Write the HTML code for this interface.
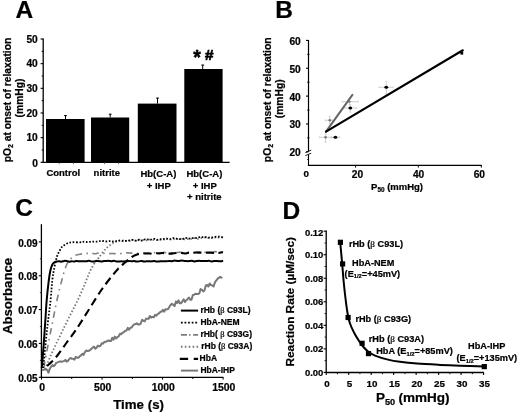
<!DOCTYPE html>
<html><head><meta charset="utf-8"><style>
html,body{margin:0;padding:0;background:#fff;overflow:hidden;width:520px;height:413px;}
svg{display:block;font-family:"Liberation Sans", sans-serif;will-change:transform;}
text{stroke:#000;stroke-width:0.22px;paint-order:stroke;}
</style></head><body>
<svg width="520" height="413" viewBox="0 0 520 413" font-family='"Liberation Sans", sans-serif'>
<rect width="520" height="413" fill="#fff"/>
<text x="15.60" y="18.10" font-size="24.5" text-anchor="start" font-weight="bold" fill="#000" >A</text>
<line x1="43.20" y1="38.60" x2="43.20" y2="162.90" stroke="#000" stroke-width="1.3" />
<line x1="42.60" y1="162.40" x2="229.60" y2="162.40" stroke="#000" stroke-width="1.3" />
<line x1="40.60" y1="162.30" x2="43.20" y2="162.30" stroke="#000" stroke-width="1.1" />
<text x="37.80" y="167.30" font-size="10.2" text-anchor="end" font-weight="bold" fill="#000" >0</text>
<line x1="40.60" y1="137.64" x2="43.20" y2="137.64" stroke="#000" stroke-width="1.1" />
<text x="37.80" y="141.24" font-size="10.2" text-anchor="end" font-weight="bold" fill="#000" >10</text>
<line x1="40.60" y1="112.98" x2="43.20" y2="112.98" stroke="#000" stroke-width="1.1" />
<text x="37.80" y="116.58" font-size="10.2" text-anchor="end" font-weight="bold" fill="#000" >20</text>
<line x1="40.60" y1="88.32" x2="43.20" y2="88.32" stroke="#000" stroke-width="1.1" />
<text x="37.80" y="91.92" font-size="10.2" text-anchor="end" font-weight="bold" fill="#000" >30</text>
<line x1="40.60" y1="63.66" x2="43.20" y2="63.66" stroke="#000" stroke-width="1.1" />
<text x="37.80" y="67.26" font-size="10.2" text-anchor="end" font-weight="bold" fill="#000" >40</text>
<line x1="40.60" y1="39.00" x2="43.20" y2="39.00" stroke="#000" stroke-width="1.1" />
<text x="37.80" y="42.60" font-size="10.2" text-anchor="end" font-weight="bold" fill="#000" >50</text>
<line x1="41.60" y1="149.97" x2="43.20" y2="149.97" stroke="#000" stroke-width="0.9" />
<line x1="41.60" y1="125.31" x2="43.20" y2="125.31" stroke="#000" stroke-width="0.9" />
<line x1="41.60" y1="100.65" x2="43.20" y2="100.65" stroke="#000" stroke-width="0.9" />
<line x1="41.60" y1="75.99" x2="43.20" y2="75.99" stroke="#000" stroke-width="0.9" />
<line x1="41.60" y1="51.33" x2="43.20" y2="51.33" stroke="#000" stroke-width="0.9" />
<rect x="46.00" y="119.00" width="38.60" height="43.40" fill="#000"/>
<line x1="65.50" y1="115.30" x2="65.50" y2="119.00" stroke="#000" stroke-width="1.0" />
<line x1="64.10" y1="115.60" x2="66.90" y2="115.60" stroke="#000" stroke-width="1.0" />
<rect x="91.00" y="117.50" width="38.20" height="44.90" fill="#000"/>
<line x1="110.20" y1="113.90" x2="110.20" y2="117.50" stroke="#000" stroke-width="1.0" />
<line x1="108.80" y1="114.20" x2="111.60" y2="114.20" stroke="#000" stroke-width="1.0" />
<rect x="137.80" y="103.60" width="38.70" height="58.80" fill="#000"/>
<line x1="157.50" y1="97.80" x2="157.50" y2="103.60" stroke="#000" stroke-width="1.0" />
<line x1="156.10" y1="98.10" x2="158.90" y2="98.10" stroke="#000" stroke-width="1.0" />
<rect x="184.30" y="69.00" width="38.30" height="93.40" fill="#000"/>
<line x1="202.70" y1="64.80" x2="202.70" y2="69.00" stroke="#000" stroke-width="1.0" />
<line x1="201.30" y1="65.10" x2="204.10" y2="65.10" stroke="#000" stroke-width="1.0" />
<line x1="59.20" y1="162.40" x2="59.20" y2="164.20" stroke="#444" stroke-width="0.7" />
<line x1="73.50" y1="162.40" x2="73.50" y2="164.20" stroke="#444" stroke-width="0.7" />
<line x1="104.50" y1="162.40" x2="104.50" y2="164.20" stroke="#444" stroke-width="0.7" />
<line x1="118.50" y1="162.40" x2="118.50" y2="164.20" stroke="#444" stroke-width="0.7" />
<text x="46.40" y="176.00" font-size="9.5" text-anchor="start" font-weight="bold" fill="#000" >Control</text>
<text x="93.60" y="175.90" font-size="9.5" text-anchor="start" font-weight="bold" fill="#000" >nitrite</text>
<text x="158.40" y="177.30" font-size="9.5" text-anchor="middle" font-weight="bold" fill="#000" >Hb(C-A)</text>
<text x="158.80" y="189.00" font-size="9.5" text-anchor="middle" font-weight="bold" fill="#000" >+ IHP</text>
<text x="204.40" y="177.30" font-size="9.5" text-anchor="middle" font-weight="bold" fill="#000" >Hb(C-A)</text>
<text x="204.80" y="189.00" font-size="9.5" text-anchor="middle" font-weight="bold" fill="#000" >+ IHP</text>
<text x="204.30" y="199.60" font-size="9.5" text-anchor="middle" font-weight="bold" fill="#000" >+ nitrite</text>
<text x="193.20" y="64.40" font-size="19.5" text-anchor="start" font-weight="bold" fill="#000" style="stroke-width:0.5px">*</text>
<text x="205.10" y="59.60" font-size="15.2" text-anchor="start" font-weight="bold" fill="#000" style="stroke-width:0.7px">#</text>
<text transform="translate(10.6,100.0) rotate(-90)" font-size="10.3" text-anchor="middle" font-weight="bold">pO<tspan font-size="7" dy="2.2">2</tspan><tspan dy="-2.2"> at onset of relaxation</tspan></text>
<text transform="translate(22.60,98.00) rotate(-90)" x="0" y="0" font-size="10.3" text-anchor="middle" font-weight="bold">(mmHg)</text>
<text x="275.20" y="18.00" font-size="24.5" text-anchor="start" font-weight="bold" fill="#000" >B</text>
<line x1="308.50" y1="40.00" x2="308.50" y2="151.30" stroke="#000" stroke-width="1.2" />
<line x1="308.50" y1="154.50" x2="308.50" y2="165.80" stroke="#000" stroke-width="1.1" />
<line x1="307.90" y1="165.30" x2="481.80" y2="165.30" stroke="#000" stroke-width="1.3" />
<line x1="305.40" y1="152.60" x2="311.20" y2="150.20" stroke="#000" stroke-width="0.9" />
<line x1="305.40" y1="155.60" x2="311.20" y2="153.20" stroke="#000" stroke-width="0.9" />
<line x1="306.00" y1="40.40" x2="308.50" y2="40.40" stroke="#000" stroke-width="1.1" />
<text x="300.80" y="44.80" font-size="10.2" text-anchor="end" font-weight="bold" fill="#000" >60</text>
<line x1="306.00" y1="68.25" x2="308.50" y2="68.25" stroke="#000" stroke-width="1.1" />
<text x="300.80" y="72.65" font-size="10.2" text-anchor="end" font-weight="bold" fill="#000" >50</text>
<line x1="306.00" y1="96.10" x2="308.50" y2="96.10" stroke="#000" stroke-width="1.1" />
<text x="300.80" y="100.50" font-size="10.2" text-anchor="end" font-weight="bold" fill="#000" >40</text>
<line x1="306.00" y1="123.95" x2="308.50" y2="123.95" stroke="#000" stroke-width="1.1" />
<text x="300.80" y="128.35" font-size="10.2" text-anchor="end" font-weight="bold" fill="#000" >30</text>
<line x1="306.00" y1="151.80" x2="308.50" y2="151.80" stroke="#000" stroke-width="1.1" />
<text x="300.80" y="156.20" font-size="10.2" text-anchor="end" font-weight="bold" fill="#000" >20</text>
<line x1="307.20" y1="54.33" x2="309.50" y2="54.33" stroke="#000" stroke-width="0.9" />
<line x1="307.20" y1="82.18" x2="309.50" y2="82.18" stroke="#000" stroke-width="0.9" />
<line x1="307.20" y1="110.03" x2="309.50" y2="110.03" stroke="#000" stroke-width="0.9" />
<line x1="307.20" y1="137.88" x2="309.50" y2="137.88" stroke="#000" stroke-width="0.9" />
<line x1="307.20" y1="159.40" x2="308.50" y2="159.40" stroke="#000" stroke-width="0.9" />
<line x1="355.60" y1="165.30" x2="355.60" y2="167.60" stroke="#000" stroke-width="1.0" />
<line x1="418.30" y1="165.30" x2="418.30" y2="167.60" stroke="#000" stroke-width="1.0" />
<line x1="481.30" y1="165.30" x2="481.30" y2="167.60" stroke="#000" stroke-width="1.0" />
<text x="306.30" y="176.60" font-size="9.8" text-anchor="middle" font-weight="bold" fill="#000" >0</text>
<text x="357.40" y="177.80" font-size="10.2" text-anchor="middle" font-weight="bold" fill="#000" >20</text>
<text x="418.60" y="178.20" font-size="10.2" text-anchor="middle" font-weight="bold" fill="#000" >40</text>
<text x="479.30" y="178.20" font-size="10.2" text-anchor="middle" font-weight="bold" fill="#000" >60</text>
<text x="371.1" y="189.8" font-size="9.5" font-weight="bold">P<tspan font-size="6.4" dy="2.4">50</tspan><tspan dy="-2.4" dx="2.6">(mmHg)</tspan></text>
<text transform="translate(271.0,99.8) rotate(-90)" font-size="10.3" text-anchor="middle" font-weight="bold">pO<tspan font-size="7" dy="2.2">2</tspan><tspan dy="-2.2"> at onset of relaxation</tspan></text>
<text transform="translate(283.20,98.80) rotate(-90)" x="0" y="0" font-size="10.3" text-anchor="middle" font-weight="bold">(mmHg)</text>
<line x1="325.00" y1="120.30" x2="332.50" y2="120.30" stroke="#c4c4c4" stroke-width="0.8" />
<line x1="325.00" y1="119.30" x2="325.00" y2="121.30" stroke="#c4c4c4" stroke-width="0.6" />
<line x1="332.50" y1="119.30" x2="332.50" y2="121.30" stroke="#c4c4c4" stroke-width="0.6" />
<line x1="329.80" y1="116.20" x2="329.80" y2="124.40" stroke="#c4c4c4" stroke-width="0.8" />
<line x1="328.80" y1="116.20" x2="330.80" y2="116.20" stroke="#c4c4c4" stroke-width="0.6" />
<line x1="328.80" y1="124.40" x2="330.80" y2="124.40" stroke="#c4c4c4" stroke-width="0.6" />
<circle cx="329.80" cy="120.30" r="1.3" fill="#777"/>
<line x1="319.30" y1="137.30" x2="332.00" y2="137.30" stroke="#c4c4c4" stroke-width="0.8" />
<line x1="319.30" y1="136.30" x2="319.30" y2="138.30" stroke="#c4c4c4" stroke-width="0.6" />
<line x1="332.00" y1="136.30" x2="332.00" y2="138.30" stroke="#c4c4c4" stroke-width="0.6" />
<line x1="325.60" y1="133.90" x2="325.60" y2="142.40" stroke="#c4c4c4" stroke-width="0.8" />
<line x1="324.60" y1="133.90" x2="326.60" y2="133.90" stroke="#c4c4c4" stroke-width="0.6" />
<line x1="324.60" y1="142.40" x2="326.60" y2="142.40" stroke="#c4c4c4" stroke-width="0.6" />
<circle cx="325.60" cy="137.30" r="1.3" fill="#777"/>
<line x1="331.20" y1="137.30" x2="339.70" y2="137.30" stroke="#c4c4c4" stroke-width="0.8" />
<line x1="331.20" y1="136.30" x2="331.20" y2="138.30" stroke="#c4c4c4" stroke-width="0.6" />
<line x1="339.70" y1="136.30" x2="339.70" y2="138.30" stroke="#c4c4c4" stroke-width="0.6" />
<ellipse cx="335.40" cy="137.30" rx="1.9" ry="1.5" fill="#000"/>
<line x1="342.20" y1="101.70" x2="358.30" y2="101.70" stroke="#c4c4c4" stroke-width="0.8" />
<line x1="342.20" y1="100.70" x2="342.20" y2="102.70" stroke="#c4c4c4" stroke-width="0.6" />
<line x1="358.30" y1="100.70" x2="358.30" y2="102.70" stroke="#c4c4c4" stroke-width="0.6" />
<line x1="349.50" y1="98.50" x2="349.50" y2="104.80" stroke="#c4c4c4" stroke-width="0.8" />
<line x1="348.50" y1="98.50" x2="350.50" y2="98.50" stroke="#c4c4c4" stroke-width="0.6" />
<line x1="348.50" y1="104.80" x2="350.50" y2="104.80" stroke="#c4c4c4" stroke-width="0.6" />
<circle cx="349.50" cy="101.70" r="1.3" fill="#888"/>
<line x1="343.90" y1="108.00" x2="356.60" y2="108.00" stroke="#c4c4c4" stroke-width="0.8" />
<line x1="343.90" y1="107.00" x2="343.90" y2="109.00" stroke="#c4c4c4" stroke-width="0.6" />
<line x1="356.60" y1="107.00" x2="356.60" y2="109.00" stroke="#c4c4c4" stroke-width="0.6" />
<line x1="350.30" y1="104.60" x2="350.30" y2="112.20" stroke="#c4c4c4" stroke-width="0.8" />
<line x1="349.30" y1="104.60" x2="351.30" y2="104.60" stroke="#c4c4c4" stroke-width="0.6" />
<line x1="349.30" y1="112.20" x2="351.30" y2="112.20" stroke="#c4c4c4" stroke-width="0.6" />
<ellipse cx="350.30" cy="108.00" rx="1.9" ry="1.5" fill="#000"/>
<line x1="379.00" y1="87.30" x2="393.20" y2="87.30" stroke="#c4c4c4" stroke-width="0.8" />
<line x1="379.00" y1="86.30" x2="379.00" y2="88.30" stroke="#c4c4c4" stroke-width="0.6" />
<line x1="393.20" y1="86.30" x2="393.20" y2="88.30" stroke="#c4c4c4" stroke-width="0.6" />
<line x1="386.30" y1="81.50" x2="386.30" y2="94.10" stroke="#c4c4c4" stroke-width="0.8" />
<line x1="385.30" y1="81.50" x2="387.30" y2="81.50" stroke="#c4c4c4" stroke-width="0.6" />
<line x1="385.30" y1="94.10" x2="387.30" y2="94.10" stroke="#c4c4c4" stroke-width="0.6" />
<ellipse cx="386.30" cy="87.30" rx="1.9" ry="1.5" fill="#000"/>
<line x1="326.00" y1="131.60" x2="352.40" y2="94.90" stroke="#666" stroke-width="2.0" stroke-linecap="round"/>
<line x1="326.00" y1="131.60" x2="462.80" y2="50.30" stroke="#000" stroke-width="2.2" stroke-linecap="round"/>
<rect x="460.4" y="51.6" width="2.8" height="3.0" fill="#000"/>
<text x="15.20" y="216.40" font-size="24.5" text-anchor="start" font-weight="bold" fill="#000" >C</text>
<line x1="41.40" y1="224.20" x2="41.40" y2="377.90" stroke="#000" stroke-width="1.3" />
<line x1="40.80" y1="377.30" x2="223.40" y2="377.30" stroke="#000" stroke-width="1.3" />
<line x1="38.80" y1="377.30" x2="41.40" y2="377.30" stroke="#000" stroke-width="1.1" />
<text x="37.60" y="381.90" font-size="10.0" text-anchor="end" font-weight="bold" fill="#000" >0.05</text>
<line x1="38.80" y1="343.45" x2="41.40" y2="343.45" stroke="#000" stroke-width="1.1" />
<text x="37.60" y="348.05" font-size="10.0" text-anchor="end" font-weight="bold" fill="#000" >0.06</text>
<line x1="38.80" y1="309.60" x2="41.40" y2="309.60" stroke="#000" stroke-width="1.1" />
<text x="37.60" y="314.20" font-size="10.0" text-anchor="end" font-weight="bold" fill="#000" >0.07</text>
<line x1="38.80" y1="275.75" x2="41.40" y2="275.75" stroke="#000" stroke-width="1.1" />
<text x="37.60" y="280.35" font-size="10.0" text-anchor="end" font-weight="bold" fill="#000" >0.08</text>
<line x1="38.80" y1="241.90" x2="41.40" y2="241.90" stroke="#000" stroke-width="1.1" />
<text x="37.60" y="246.50" font-size="10.0" text-anchor="end" font-weight="bold" fill="#000" >0.09</text>
<line x1="39.90" y1="360.38" x2="41.40" y2="360.38" stroke="#000" stroke-width="0.8" />
<line x1="39.90" y1="326.53" x2="41.40" y2="326.53" stroke="#000" stroke-width="0.8" />
<line x1="39.90" y1="292.68" x2="41.40" y2="292.68" stroke="#000" stroke-width="0.8" />
<line x1="39.90" y1="258.82" x2="41.40" y2="258.82" stroke="#000" stroke-width="0.8" />
<line x1="41.50" y1="377.30" x2="41.50" y2="379.60" stroke="#000" stroke-width="1.0" />
<line x1="71.78" y1="377.30" x2="71.78" y2="379.00" stroke="#000" stroke-width="1.0" />
<line x1="102.05" y1="377.30" x2="102.05" y2="379.60" stroke="#000" stroke-width="1.0" />
<line x1="132.32" y1="377.30" x2="132.32" y2="379.00" stroke="#000" stroke-width="1.0" />
<line x1="162.60" y1="377.30" x2="162.60" y2="379.60" stroke="#000" stroke-width="1.0" />
<line x1="192.88" y1="377.30" x2="192.88" y2="379.00" stroke="#000" stroke-width="1.0" />
<line x1="223.15" y1="377.30" x2="223.15" y2="379.60" stroke="#000" stroke-width="1.0" />
<text x="42.10" y="391.40" font-size="10.4" text-anchor="middle" font-weight="bold" fill="#000" >0</text>
<text x="102.65" y="391.40" font-size="10.4" text-anchor="middle" font-weight="bold" fill="#000" >500</text>
<text x="163.20" y="391.40" font-size="10.4" text-anchor="middle" font-weight="bold" fill="#000" >1000</text>
<text x="223.75" y="391.40" font-size="10.4" text-anchor="middle" font-weight="bold" fill="#000" >1500</text>
<text x="138.60" y="408.80" font-size="13.3" text-anchor="middle" font-weight="bold" fill="#000" >Time (s)</text>
<text transform="translate(12.20,296.00) rotate(-90)" x="0" y="0" font-size="13.2" text-anchor="middle" font-weight="bold">Absorbance</text>
<path d="M41.90,370.00 L43.30,369.70 L44.60,369.60 L45.90,368.89 L47.20,370.03 L48.50,372.69 L49.80,368.67 L51.10,366.80 L52.40,365.10 L53.70,366.22 L55.00,364.96 L56.30,362.72 L57.60,362.37 L58.90,361.81 L60.20,361.35 L61.50,361.91 L62.80,361.36 L64.10,361.03 L65.40,359.90 L66.70,361.61 L68.00,360.87 L69.30,358.96 L70.60,357.97 L71.90,358.78 L73.20,358.78 L74.50,359.67 L75.80,356.81 L77.10,357.78 L78.40,357.76 L79.70,356.30 L81.00,355.33 L82.30,353.84 L83.60,354.95 L84.90,352.18 L86.20,350.55 L87.50,350.94 L88.80,350.77 L90.10,350.02 L91.40,348.86 L92.70,347.56 L94.00,346.68 L95.30,348.63 L96.60,347.68 L97.90,345.53 L99.20,346.45 L100.50,345.77 L101.80,343.21 L103.10,343.68 L104.40,341.91 L105.70,341.86 L107.00,341.23 L108.30,340.41 L109.60,341.01 L110.90,341.10 L112.20,337.76 L113.50,339.80 L114.80,336.65 L116.10,338.51 L117.40,337.01 L118.70,336.30 L120.00,333.69 L121.30,334.21 L122.60,332.67 L123.90,332.22 L125.20,330.67 L126.50,330.49 L127.80,327.83 L129.10,329.61 L130.40,327.69 L131.70,327.60 L133.00,325.49 L134.30,324.36 L135.60,324.03 L136.90,323.23 L138.20,324.57 L139.50,324.45 L140.80,323.43 L142.10,319.74 L143.40,320.81 L144.70,321.42 L146.00,318.62 L147.30,318.78 L148.60,318.77 L149.90,315.97 L151.20,317.65 L152.50,316.87 L153.80,317.22 L155.10,314.84 L156.40,315.71 L157.70,314.01 L159.00,313.38 L160.30,311.83 L161.60,311.69 L162.90,309.75 L164.20,311.60 L165.50,309.35 L166.80,309.43 L168.10,308.94 L169.40,306.73 L170.70,304.85 L172.00,303.75 L173.30,305.01 L174.60,306.08 L175.90,301.45 L177.20,303.06 L178.50,300.32 L179.80,303.33 L181.10,303.18 L182.40,301.31 L183.70,299.33 L185.00,301.98 L186.30,300.26 L187.60,298.95 L188.90,297.56 L190.20,299.64 L191.50,299.68 L192.80,294.95 L194.10,294.68 L195.40,293.68 L196.70,294.05 L198.00,294.05 L199.30,293.44 L200.60,289.04 L201.90,289.82 L203.20,291.35 L204.50,290.35 L205.80,285.53 L207.10,284.99 L208.40,286.54 L209.70,283.47 L211.00,285.07 L212.30,285.43 L213.60,286.54 L214.90,282.41 L216.20,280.52 L217.50,278.86 L218.80,277.92 L220.10,276.74 L221.40,277.57 L222.20,278.32" fill="none" stroke="#777" stroke-width="2.0"  stroke-linejoin="round" />
<path d="M45.00,369.00 C45.50,367.83 46.67,365.08 48.00,362.00 C49.33,358.92 51.00,354.83 53.00,350.50 C55.00,346.17 57.83,340.50 60.00,336.00 C62.17,331.50 64.00,327.58 66.00,323.50 C68.00,319.42 70.03,315.42 72.00,311.50 C73.97,307.58 75.87,304.08 77.80,300.00 C79.73,295.92 81.90,291.00 83.60,287.00 C85.30,283.00 86.70,279.08 88.00,276.00 C89.30,272.92 90.07,271.00 91.40,268.50 C92.73,266.00 94.75,262.82 96.00,261.00 C97.25,259.18 97.37,259.55 98.90,257.60 C100.43,255.65 103.18,251.48 105.20,249.30 C107.22,247.12 109.47,245.68 111.00,244.50 C112.53,243.32 113.23,242.78 114.40,242.20 C115.57,241.62 116.73,241.27 118.00,241.00 C119.27,240.73 120.92,240.70 122.00,240.60 C123.08,240.50 123.67,240.33 124.50,240.37 C125.33,240.41 126.17,240.76 127.00,240.85 C127.83,240.94 128.67,241.12 129.50,240.93 C130.33,240.74 131.17,239.73 132.00,239.71 C132.83,239.69 133.67,240.69 134.50,240.81 C135.33,240.93 136.17,240.65 137.00,240.44 C137.83,240.22 138.67,239.62 139.50,239.53 C140.33,239.44 141.17,239.81 142.00,239.90 C142.83,239.99 143.67,239.98 144.50,240.06 C145.33,240.14 146.17,240.47 147.00,240.38 C147.83,240.30 148.67,239.66 149.50,239.56 C150.33,239.45 151.17,239.65 152.00,239.75 C152.83,239.84 153.67,240.07 154.50,240.10 C155.33,240.13 156.17,239.92 157.00,239.91 C157.83,239.90 158.67,240.14 159.50,240.03 C160.33,239.93 161.17,239.38 162.00,239.28 C162.83,239.19 163.67,239.55 164.50,239.47 C165.33,239.38 166.17,238.77 167.00,238.76 C167.83,238.75 168.67,239.29 169.50,239.41 C170.33,239.52 171.17,239.51 172.00,239.46 C172.83,239.42 173.67,239.18 174.50,239.13 C175.33,239.09 176.17,239.29 177.00,239.16 C177.83,239.04 178.67,238.36 179.50,238.38 C180.33,238.39 181.17,239.11 182.00,239.26 C182.83,239.41 183.67,239.30 184.50,239.29 C185.33,239.28 186.17,239.34 187.00,239.21 C187.83,239.08 188.67,238.58 189.50,238.51 C190.33,238.44 191.17,238.87 192.00,238.79 C192.83,238.71 193.67,238.05 194.50,238.05 C195.33,238.05 196.17,238.70 197.00,238.80 C197.83,238.90 198.67,238.80 199.50,238.64 C200.33,238.49 201.17,238.06 202.00,237.85 C202.83,237.65 203.67,237.41 204.50,237.40 C205.33,237.40 206.17,237.74 207.00,237.82 C207.83,237.91 208.67,237.85 209.50,237.90 C210.33,237.95 211.17,238.17 212.00,238.12 C212.83,238.08 213.67,237.85 214.50,237.65 C215.33,237.45 216.17,236.88 217.00,236.93 C217.83,236.98 218.67,237.96 219.50,237.94 C220.33,237.93 221.42,236.84 222.00,236.82 C222.58,236.80 222.83,237.65 223.00,237.82" fill="none" stroke="#777" stroke-width="1.8" stroke-dasharray="1.5 2.0" stroke-linejoin="round" />
<path d="M44.00,368.00 C44.13,367.00 43.63,368.33 44.80,362.00 C45.97,355.67 48.97,340.33 51.00,330.00 C53.03,319.67 55.20,308.30 57.00,300.00 C58.80,291.70 60.52,285.20 61.80,280.20 C63.08,275.20 63.83,272.70 64.70,270.00 C65.57,267.30 66.15,265.68 67.00,264.00 C67.85,262.32 68.63,261.23 69.80,259.90 C70.97,258.57 72.30,256.95 74.00,256.00 C75.70,255.05 78.00,254.60 80.00,254.20 C82.00,253.80 84.50,253.76 86.00,253.60 C87.50,253.44 88.00,253.28 89.00,253.24 C90.00,253.20 91.00,253.27 92.00,253.36 C93.00,253.46 94.00,253.83 95.00,253.78 C96.00,253.74 97.00,253.22 98.00,253.10 C99.00,252.98 100.00,253.02 101.00,253.07 C102.00,253.12 103.00,253.32 104.00,253.41 C105.00,253.49 106.00,253.54 107.00,253.58 C108.00,253.62 109.00,253.68 110.00,253.66 C111.00,253.64 112.00,253.47 113.00,253.47 C114.00,253.48 115.00,253.74 116.00,253.70 C117.00,253.65 118.00,253.22 119.00,253.21 C120.00,253.20 121.00,253.71 122.00,253.63 C123.00,253.55 124.00,252.86 125.00,252.73 C126.00,252.60 127.00,252.77 128.00,252.83 C129.00,252.89 130.00,253.10 131.00,253.10 C132.00,253.10 133.00,252.81 134.00,252.83 C135.00,252.85 136.00,253.19 137.00,253.23 C138.00,253.28 139.00,253.15 140.00,253.11 C141.00,253.06 142.00,252.93 143.00,252.96 C144.00,252.98 145.00,253.25 146.00,253.24 C147.00,253.24 148.00,253.02 149.00,252.92 C150.00,252.82 151.00,252.68 152.00,252.64 C153.00,252.60 154.00,252.60 155.00,252.68 C156.00,252.75 157.00,253.03 158.00,253.10 C159.00,253.18 160.00,253.24 161.00,253.12 C162.00,253.01 163.00,252.42 164.00,252.40 C165.00,252.38 166.00,252.89 167.00,253.00 C168.00,253.12 169.00,253.15 170.00,253.09 C171.00,253.02 172.00,252.69 173.00,252.61 C174.00,252.53 175.00,252.69 176.00,252.62 C177.00,252.56 178.00,252.23 179.00,252.21 C180.00,252.20 181.00,252.48 182.00,252.51 C183.00,252.55 184.00,252.45 185.00,252.45 C186.00,252.45 187.00,252.60 188.00,252.51 C189.00,252.42 190.00,251.85 191.00,251.90 C192.00,251.95 193.00,252.74 194.00,252.81 C195.00,252.88 196.00,252.43 197.00,252.32 C198.00,252.21 199.00,252.13 200.00,252.17 C201.00,252.21 202.00,252.52 203.00,252.53 C204.00,252.55 205.00,252.32 206.00,252.26 C207.00,252.20 208.00,252.14 209.00,252.15 C210.00,252.16 211.00,252.40 212.00,252.32 C213.00,252.24 214.00,251.70 215.00,251.66 C216.00,251.62 217.00,252.05 218.00,252.10 C219.00,252.14 220.17,251.88 221.00,251.94 C221.83,252.00 222.67,252.37 223.00,252.46" fill="none" stroke="#808080" stroke-width="1.6" stroke-dasharray="6.5 4.5 1.5 4.5" stroke-linejoin="round" />
<path d="M47.00,366.00 C47.83,365.25 50.15,363.42 52.00,361.50 C53.85,359.58 55.77,357.50 58.10,354.50 C60.43,351.50 63.03,347.58 66.00,343.50 C68.97,339.42 72.23,335.42 75.90,330.00 C79.57,324.58 83.98,317.33 88.00,311.00 C92.02,304.67 96.33,297.42 100.00,292.00 C103.67,286.58 107.00,282.33 110.00,278.50 C113.00,274.67 115.50,271.67 118.00,269.00 C120.50,266.33 122.83,264.42 125.00,262.50 C127.17,260.58 129.00,258.83 131.00,257.50 C133.00,256.17 135.00,255.15 137.00,254.50 C139.00,253.85 140.83,253.77 143.00,253.60 C145.17,253.43 148.33,253.45 150.00,253.50 C151.67,253.55 152.00,253.94 153.00,253.89 C154.00,253.84 155.00,253.28 156.00,253.20 C157.00,253.11 158.00,253.40 159.00,253.36 C160.00,253.33 161.00,253.00 162.00,252.98 C163.00,252.96 164.00,253.15 165.00,253.25 C166.00,253.35 167.00,253.53 168.00,253.59 C169.00,253.66 170.00,253.71 171.00,253.64 C172.00,253.57 173.00,253.29 174.00,253.18 C175.00,253.07 176.00,253.04 177.00,252.98 C178.00,252.92 179.00,252.78 180.00,252.82 C181.00,252.86 182.00,253.10 183.00,253.21 C184.00,253.32 185.00,253.58 186.00,253.48 C187.00,253.39 188.00,252.69 189.00,252.65 C190.00,252.61 191.00,253.29 192.00,253.26 C193.00,253.23 194.00,252.58 195.00,252.47 C196.00,252.36 197.00,252.58 198.00,252.60 C199.00,252.62 200.00,252.53 201.00,252.60 C202.00,252.67 203.00,253.02 204.00,253.02 C205.00,253.02 206.00,252.69 207.00,252.62 C208.00,252.55 209.00,252.58 210.00,252.62 C211.00,252.65 212.00,252.90 213.00,252.84 C214.00,252.79 215.00,252.28 216.00,252.29 C217.00,252.30 218.00,252.89 219.00,252.88 C220.00,252.87 221.33,252.28 222.00,252.24 C222.67,252.19 222.83,252.55 223.00,252.61" fill="none" stroke="#000" stroke-width="2.1" stroke-dasharray="8 4.6" stroke-linejoin="round" />
<path d="M43.00,368.00 C43.13,367.00 43.13,368.33 43.80,362.00 C44.47,355.67 45.87,340.33 47.00,330.00 C48.13,319.67 49.72,308.30 50.60,300.00 C51.48,291.70 51.65,285.70 52.30,280.20 C52.95,274.70 53.70,271.00 54.50,267.00 C55.30,263.00 56.18,259.03 57.10,256.20 C58.02,253.37 59.10,251.62 60.00,250.00 C60.90,248.38 61.33,247.58 62.50,246.50 C63.67,245.42 65.42,244.20 67.00,243.50 C68.58,242.80 69.83,242.50 72.00,242.30 C74.17,242.10 78.25,242.37 80.00,242.30 C81.75,242.23 81.67,241.95 82.50,241.85 C83.33,241.75 84.17,241.64 85.00,241.68 C85.83,241.71 86.67,242.02 87.50,242.04 C88.33,242.06 89.17,241.88 90.00,241.81 C90.83,241.74 91.67,241.66 92.50,241.63 C93.33,241.59 94.17,241.58 95.00,241.58 C95.83,241.58 96.67,241.73 97.50,241.64 C98.33,241.55 99.17,241.13 100.00,241.02 C100.83,240.91 101.67,240.91 102.50,240.99 C103.33,241.06 104.17,241.42 105.00,241.48 C105.83,241.55 106.67,241.45 107.50,241.39 C108.33,241.34 109.17,241.13 110.00,241.14 C110.83,241.16 111.67,241.51 112.50,241.49 C113.33,241.48 114.17,241.09 115.00,241.06 C115.83,241.02 116.67,241.42 117.50,241.30 C118.33,241.18 119.17,240.39 120.00,240.33 C120.83,240.27 121.67,240.84 122.50,240.94 C123.33,241.04 124.17,240.93 125.00,240.93 C125.83,240.94 126.67,241.11 127.50,240.96 C128.33,240.82 129.17,240.21 130.00,240.04 C130.83,239.87 131.67,239.84 132.50,239.95 C133.33,240.06 134.17,240.77 135.00,240.71 C135.83,240.66 136.67,239.65 137.50,239.64 C138.33,239.63 139.17,240.52 140.00,240.64 C140.83,240.77 141.67,240.63 142.50,240.40 C143.33,240.17 144.17,239.44 145.00,239.26 C145.83,239.07 146.67,239.21 147.50,239.31 C148.33,239.42 149.17,239.93 150.00,239.91 C150.83,239.88 151.67,239.34 152.50,239.16 C153.33,238.99 154.17,238.74 155.00,238.85 C155.83,238.95 156.67,239.74 157.50,239.79 C158.33,239.84 159.17,239.17 160.00,239.13 C160.83,239.09 161.67,239.65 162.50,239.55 C163.33,239.45 164.17,238.65 165.00,238.53 C165.83,238.41 166.67,238.73 167.50,238.83 C168.33,238.93 169.17,239.26 170.00,239.14 C170.83,239.02 171.67,238.26 172.50,238.12 C173.33,237.97 174.17,238.16 175.00,238.28 C175.83,238.41 176.67,238.73 177.50,238.87 C178.33,239.01 179.17,239.06 180.00,239.10 C180.83,239.14 181.67,239.31 182.50,239.09 C183.33,238.88 184.17,237.95 185.00,237.81 C185.83,237.67 186.67,238.15 187.50,238.27 C188.33,238.39 189.17,238.56 190.00,238.53 C190.83,238.50 191.67,238.13 192.50,238.09 C193.33,238.04 194.17,238.36 195.00,238.25 C195.83,238.15 196.67,237.64 197.50,237.47 C198.33,237.30 199.17,237.26 200.00,237.21 C200.83,237.17 201.67,237.21 202.50,237.18 C203.33,237.14 204.17,236.92 205.00,236.99 C205.83,237.07 206.67,237.54 207.50,237.62 C208.33,237.70 209.17,237.51 210.00,237.48 C210.83,237.46 211.67,237.58 212.50,237.47 C213.33,237.35 214.17,236.91 215.00,236.79 C215.83,236.67 216.67,236.77 217.50,236.75 C218.33,236.74 219.17,236.57 220.00,236.69 C220.83,236.82 222.00,237.33 222.50,237.49 C223.00,237.66 222.92,237.65 223.00,237.69" fill="none" stroke="#000" stroke-width="1.8" stroke-dasharray="1.6 1.7" stroke-linejoin="round" />
<path d="M41.80,368.00 C41.92,366.67 42.13,364.67 42.50,360.00 C42.87,355.33 43.50,347.00 44.00,340.00 C44.50,333.00 45.05,324.67 45.50,318.00 C45.95,311.33 46.17,306.17 46.70,300.00 C47.23,293.83 48.07,286.00 48.70,281.00 C49.33,276.00 49.87,272.78 50.50,270.00 C51.13,267.22 51.75,265.63 52.50,264.30 C53.25,262.97 53.92,262.50 55.00,262.00 C56.08,261.50 57.92,261.35 59.00,261.30 C60.08,261.25 60.67,261.74 61.50,261.68 C62.33,261.62 63.17,261.06 64.00,260.92 C64.83,260.79 65.67,260.76 66.50,260.89 C67.33,261.01 68.17,261.62 69.00,261.68 C69.83,261.74 70.67,261.27 71.50,261.24 C72.33,261.21 73.17,261.52 74.00,261.50 C74.83,261.48 75.67,261.15 76.50,261.10 C77.33,261.05 78.17,261.20 79.00,261.22 C79.83,261.25 80.67,261.27 81.50,261.26 C82.33,261.25 83.17,261.17 84.00,261.18 C84.83,261.19 85.67,261.39 86.50,261.32 C87.33,261.26 88.17,260.78 89.00,260.79 C89.83,260.80 90.67,261.28 91.50,261.40 C92.33,261.52 93.17,261.60 94.00,261.52 C94.83,261.44 95.67,260.98 96.50,260.92 C97.33,260.86 98.17,261.08 99.00,261.16 C99.83,261.24 100.67,261.42 101.50,261.41 C102.33,261.40 103.17,261.19 104.00,261.11 C104.83,261.02 105.67,260.95 106.50,260.91 C107.33,260.87 108.17,260.83 109.00,260.88 C109.83,260.92 110.67,261.21 111.50,261.18 C112.33,261.16 113.17,260.67 114.00,260.73 C114.83,260.78 115.67,261.40 116.50,261.51 C117.33,261.63 118.17,261.46 119.00,261.43 C119.83,261.39 120.67,261.32 121.50,261.33 C122.33,261.34 123.17,261.48 124.00,261.47 C124.83,261.45 125.67,261.32 126.50,261.25 C127.33,261.18 128.17,261.05 129.00,261.04 C129.83,261.04 130.67,261.20 131.50,261.21 C132.33,261.23 133.17,261.07 134.00,261.12 C134.83,261.18 135.67,261.50 136.50,261.55 C137.33,261.59 138.17,261.49 139.00,261.38 C139.83,261.27 140.67,260.87 141.50,260.88 C142.33,260.90 143.17,261.39 144.00,261.46 C144.83,261.53 145.67,261.33 146.50,261.31 C147.33,261.28 148.17,261.32 149.00,261.33 C149.83,261.34 150.67,261.42 151.50,261.36 C152.33,261.30 153.17,260.97 154.00,260.98 C154.83,260.99 155.67,261.35 156.50,261.42 C157.33,261.49 158.17,261.43 159.00,261.40 C159.83,261.37 160.67,261.24 161.50,261.23 C162.33,261.21 163.17,261.28 164.00,261.28 C164.83,261.29 165.67,261.33 166.50,261.28 C167.33,261.22 168.17,260.96 169.00,260.95 C169.83,260.94 170.67,261.28 171.50,261.23 C172.33,261.17 173.17,260.69 174.00,260.63 C174.83,260.57 175.67,260.81 176.50,260.87 C177.33,260.93 178.17,261.03 179.00,260.98 C179.83,260.93 180.67,260.58 181.50,260.56 C182.33,260.54 183.17,260.77 184.00,260.87 C184.83,260.96 185.67,261.08 186.50,261.11 C187.33,261.15 188.17,261.16 189.00,261.09 C189.83,261.03 190.67,260.69 191.50,260.74 C192.33,260.78 193.17,261.31 194.00,261.37 C194.83,261.43 195.67,261.21 196.50,261.11 C197.33,261.02 198.17,260.82 199.00,260.81 C199.83,260.81 200.67,261.06 201.50,261.10 C202.33,261.13 203.17,261.03 204.00,261.01 C204.83,260.99 205.67,261.00 206.50,260.97 C207.33,260.94 208.17,260.77 209.00,260.83 C209.83,260.90 210.67,261.34 211.50,261.38 C212.33,261.41 213.17,261.10 214.00,261.05 C214.83,261.00 215.67,261.08 216.50,261.10 C217.33,261.11 218.17,261.11 219.00,261.15 C219.83,261.19 220.83,261.45 221.50,261.34 C222.17,261.22 222.75,260.61 223.00,260.47" fill="none" stroke="#000" stroke-width="2.0"  stroke-linejoin="round" />
<path d="M180.90,310.60 L198.1,310.60" fill="none" stroke="#000" stroke-width="2.0"  stroke-linejoin="round" />
<text x="200.40" y="313.20" font-size="8.5" text-anchor="start" font-weight="bold" fill="#000" >rHb (<tspan font-family="Liberation Serif" font-weight="normal">β</tspan> C93L)</text>
<path d="M180.90,322.60 L198.1,322.60" fill="none" stroke="#000" stroke-width="1.9" stroke-dasharray="1.8 1.8" stroke-linejoin="round" />
<text x="200.40" y="325.20" font-size="8.5" text-anchor="start" font-weight="bold" fill="#000" >HbA-NEM</text>
<path d="M180.90,334.80 L198.1,334.80" fill="none" stroke="#7c7c7c" stroke-width="1.7" stroke-dasharray="6.1 2.0 1.5 2.6" stroke-linejoin="round" />
<text x="200.40" y="337.40" font-size="8.5" text-anchor="start" font-weight="bold" fill="#000" >rHb( <tspan font-family="Liberation Serif" font-weight="normal">β</tspan> C93G)</text>
<path d="M180.90,346.80 L198.1,346.80" fill="none" stroke="#777" stroke-width="1.9" stroke-dasharray="1.6 2.3" stroke-linejoin="round" />
<text x="201.20" y="349.40" font-size="8.5" text-anchor="start" font-weight="bold" fill="#000" >rHb (<tspan font-family="Liberation Serif" font-weight="normal">β</tspan> C93A)</text>
<path d="M179.80,358.80 L198.1,358.80" fill="none" stroke="#000" stroke-width="2.2" stroke-dasharray="8.3 5.6" stroke-linejoin="round" />
<text x="199.60" y="361.40" font-size="8.5" text-anchor="start" font-weight="bold" fill="#000" >HbA</text>
<path d="M180.90,370.60 L198.1,370.60" fill="none" stroke="#767676" stroke-width="1.9"  stroke-linejoin="round" />
<text x="200.40" y="373.20" font-size="8.5" text-anchor="start" font-weight="bold" fill="#000" >HbA-IHP</text>
<text x="282.40" y="218.80" font-size="24.5" text-anchor="start" font-weight="bold" fill="#000" >D</text>
<line x1="326.20" y1="230.60" x2="326.20" y2="373.00" stroke="#000" stroke-width="1.3" />
<line x1="325.60" y1="372.50" x2="483.90" y2="372.50" stroke="#000" stroke-width="1.3" />
<line x1="323.60" y1="372.40" x2="326.20" y2="372.40" stroke="#000" stroke-width="1.1" />
<text x="323.40" y="375.80" font-size="9.5" text-anchor="end" font-weight="bold" fill="#000" >0.00</text>
<line x1="323.60" y1="348.87" x2="326.20" y2="348.87" stroke="#000" stroke-width="1.1" />
<text x="323.40" y="352.27" font-size="9.5" text-anchor="end" font-weight="bold" fill="#000" >0.02</text>
<line x1="323.60" y1="325.33" x2="326.20" y2="325.33" stroke="#000" stroke-width="1.1" />
<text x="323.40" y="328.73" font-size="9.5" text-anchor="end" font-weight="bold" fill="#000" >0.04</text>
<line x1="323.60" y1="301.80" x2="326.20" y2="301.80" stroke="#000" stroke-width="1.1" />
<text x="323.40" y="305.20" font-size="9.5" text-anchor="end" font-weight="bold" fill="#000" >0.06</text>
<line x1="323.60" y1="278.26" x2="326.20" y2="278.26" stroke="#000" stroke-width="1.1" />
<text x="323.40" y="281.66" font-size="9.5" text-anchor="end" font-weight="bold" fill="#000" >0.08</text>
<line x1="323.60" y1="254.73" x2="326.20" y2="254.73" stroke="#000" stroke-width="1.1" />
<text x="323.40" y="258.13" font-size="9.5" text-anchor="end" font-weight="bold" fill="#000" >0.10</text>
<line x1="323.60" y1="231.20" x2="326.20" y2="231.20" stroke="#000" stroke-width="1.1" />
<text x="323.40" y="235.80" font-size="9.5" text-anchor="end" font-weight="bold" fill="#000" >0.12</text>
<line x1="324.60" y1="360.63" x2="326.20" y2="360.63" stroke="#000" stroke-width="0.9" />
<line x1="324.60" y1="337.10" x2="326.20" y2="337.10" stroke="#000" stroke-width="0.9" />
<line x1="324.60" y1="313.56" x2="326.20" y2="313.56" stroke="#000" stroke-width="0.9" />
<line x1="324.60" y1="290.03" x2="326.20" y2="290.03" stroke="#000" stroke-width="0.9" />
<line x1="324.60" y1="266.50" x2="326.20" y2="266.50" stroke="#000" stroke-width="0.9" />
<line x1="324.60" y1="242.96" x2="326.20" y2="242.96" stroke="#000" stroke-width="0.9" />
<line x1="326.20" y1="372.50" x2="326.20" y2="375.00" stroke="#000" stroke-width="1.1" />
<text x="327.10" y="386.80" font-size="9.8" text-anchor="middle" font-weight="bold" fill="#000" >0</text>
<line x1="348.69" y1="372.50" x2="348.69" y2="375.00" stroke="#000" stroke-width="1.1" />
<text x="349.58" y="386.80" font-size="9.8" text-anchor="middle" font-weight="bold" fill="#000" >5</text>
<line x1="371.17" y1="372.50" x2="371.17" y2="375.00" stroke="#000" stroke-width="1.1" />
<text x="372.07" y="386.80" font-size="9.8" text-anchor="middle" font-weight="bold" fill="#000" >10</text>
<line x1="393.65" y1="372.50" x2="393.65" y2="375.00" stroke="#000" stroke-width="1.1" />
<text x="394.55" y="386.80" font-size="9.8" text-anchor="middle" font-weight="bold" fill="#000" >15</text>
<line x1="416.14" y1="372.50" x2="416.14" y2="375.00" stroke="#000" stroke-width="1.1" />
<text x="417.04" y="386.80" font-size="9.8" text-anchor="middle" font-weight="bold" fill="#000" >20</text>
<line x1="438.62" y1="372.50" x2="438.62" y2="375.00" stroke="#000" stroke-width="1.1" />
<text x="439.52" y="386.80" font-size="9.8" text-anchor="middle" font-weight="bold" fill="#000" >25</text>
<line x1="461.11" y1="372.50" x2="461.11" y2="375.00" stroke="#000" stroke-width="1.1" />
<text x="462.01" y="386.80" font-size="9.8" text-anchor="middle" font-weight="bold" fill="#000" >30</text>
<line x1="483.59" y1="372.50" x2="483.59" y2="375.00" stroke="#000" stroke-width="1.1" />
<text x="484.49" y="386.80" font-size="9.8" text-anchor="middle" font-weight="bold" fill="#000" >35</text>
<line x1="337.44" y1="372.50" x2="337.44" y2="374.20" stroke="#000" stroke-width="0.9" />
<line x1="359.93" y1="372.50" x2="359.93" y2="374.20" stroke="#000" stroke-width="0.9" />
<line x1="382.41" y1="372.50" x2="382.41" y2="374.20" stroke="#000" stroke-width="0.9" />
<line x1="404.90" y1="372.50" x2="404.90" y2="374.20" stroke="#000" stroke-width="0.9" />
<line x1="427.38" y1="372.50" x2="427.38" y2="374.20" stroke="#000" stroke-width="0.9" />
<line x1="449.87" y1="372.50" x2="449.87" y2="374.20" stroke="#000" stroke-width="0.9" />
<line x1="472.35" y1="372.50" x2="472.35" y2="374.20" stroke="#000" stroke-width="0.9" />
<text x="375.9" y="401.6" font-size="13.5" font-weight="bold">P<tspan font-size="9.2" dy="3.2">50</tspan><tspan dy="-3.2" dx="3.4">(mmHg)</tspan></text>
<text transform="translate(294.00,301.80) rotate(-90)" x="0" y="0" font-size="11.8" text-anchor="middle" font-weight="bold">Reaction Rate (µM/sec)</text>
<path d="M340.20,242.10 C340.37,243.92 340.87,249.35 341.20,253.00 C341.53,256.65 341.78,259.17 342.20,264.00 C342.62,268.83 343.12,276.00 343.70,282.00 C344.28,288.00 345.05,294.75 345.70,300.00 C346.35,305.25 346.88,309.58 347.60,313.50 C348.32,317.42 348.87,320.20 350.00,323.50 C351.13,326.80 352.87,330.35 354.40,333.30 C355.93,336.25 357.68,338.92 359.20,341.20 C360.72,343.48 361.95,345.23 363.50,347.00 C365.05,348.77 366.58,350.37 368.50,351.80 C370.42,353.23 371.75,354.30 375.00,355.60 C378.25,356.90 383.83,358.57 388.00,359.60 C392.17,360.63 395.17,361.13 400.00,361.80 C404.83,362.47 410.33,363.08 417.00,363.60 C423.67,364.12 432.83,364.55 440.00,364.90 C447.17,365.25 452.62,365.45 460.00,365.70 C467.38,365.95 480.25,366.28 484.30,366.40" fill="none" stroke="#000" stroke-width="2.0"  stroke-linejoin="round" />
<rect x="337.80" y="239.70" width="5.20" height="5.20" fill="#000"/>
<rect x="340.00" y="261.30" width="5.20" height="5.20" fill="#000"/>
<rect x="345.50" y="314.90" width="5.20" height="5.20" fill="#000"/>
<rect x="359.50" y="340.70" width="5.20" height="5.20" fill="#000"/>
<rect x="365.90" y="351.00" width="5.20" height="5.20" fill="#000"/>
<rect x="481.70" y="364.00" width="5.20" height="5.20" fill="#000"/>
<text x="348.90" y="246.90" font-size="9.2" text-anchor="start" font-weight="bold" fill="#000" >rHb (<tspan font-family="Liberation Serif" font-weight="normal">β</tspan> C93L)</text>
<text x="352.00" y="266.20" font-size="9.2" text-anchor="start" font-weight="bold" fill="#000" >HbA-NEM</text>
<text x="344.60" y="276.60" font-size="9.2" text-anchor="start" font-weight="bold" fill="#000" >(E<tspan font-size="5.8" dy="1.8">1/2</tspan><tspan dy="-1.8">=+45mV)</tspan></text>
<text x="355.40" y="321.50" font-size="9.2" text-anchor="start" font-weight="bold" fill="#000" >rHb (<tspan font-family="Liberation Serif" font-weight="normal">β</tspan> C93G)</text>
<text x="368.80" y="341.50" font-size="9.2" text-anchor="start" font-weight="bold" fill="#000" >rHb (<tspan font-family="Liberation Serif" font-weight="normal">β</tspan> C93A)</text>
<text x="376.20" y="354.40" font-size="9.2" text-anchor="start" font-weight="bold" fill="#000" >HbA (E<tspan font-size="5.8" dy="1.8">1/2</tspan><tspan dy="-1.8">=+85mV)</tspan></text>
<text x="468.10" y="349.40" font-size="9.2" text-anchor="start" font-weight="bold" fill="#000" >HbA-IHP</text>
<text x="456.50" y="360.80" font-size="9.2" text-anchor="start" font-weight="bold" fill="#000" >(E<tspan font-size="5.8" dy="1.8">1/2</tspan><tspan dy="-1.8">=+135mV)</tspan></text>
</svg>
</body></html>
